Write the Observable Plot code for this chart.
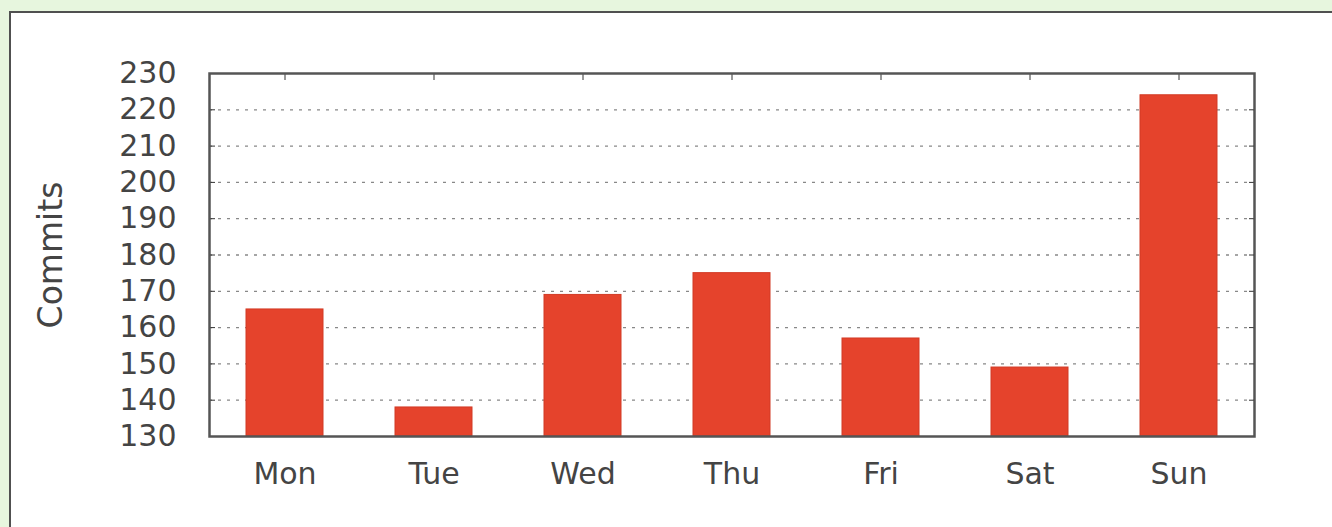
<!DOCTYPE html>
<html>
<head>
<meta charset="utf-8">
<script src="https://cdn.jsdelivr.net/npm/d3@7"></script>
<script src="https://cdn.jsdelivr.net/npm/@observablehq/plot@0.6"></script>
<style>
  html, body { margin: 0; padding: 0; width: 1332px; height: 527px; overflow: hidden; background: #e7f6de; }
  #panel { position: absolute; left: 9px; top: 11px; width: 1340px; height: 540px; background: #ffffff; border-top: 2px solid #505050; border-left: 2px solid #505050; }
  #chart { position: absolute; left: 0; top: 0; }
</style>
</head>
<body>
<div id="panel"></div>
<div id="chart"></div>
<script>
const days = ["Mon", "Tue", "Wed", "Thu", "Fri", "Sat", "Sun"];
const commits = [165, 138, 169, 175, 157, 149, 224];
const yDomain = [130, 230];
const yTicks = [130, 140, 150, 160, 170, 180, 190, 200, 210, 220, 230];
const gridTicks = [140, 150, 160, 170, 180, 190, 200, 210, 220];
const yLabel = "Commits";

const data = days.map((d, i) => ({day: d, commits: commits[i]}));

const chart = Plot.plot({
  width: 1332,
  height: 527,
  marginLeft: 209,
  marginRight: 78,
  marginTop: 73,
  marginBottom: 91,
  style: {background: "transparent", fontFamily: "DejaVu Sans", fontSize: "30px", color: "#444"},
  x: {domain: days, paddingInner: 0.485, paddingOuter: 0.2425, axis: null},
  y: {domain: yDomain, axis: null},
  marks: [
    Plot.gridY(gridTicks, {stroke: "#888", strokeOpacity: 1, strokeDasharray: "3,6", strokeWidth: 1.3}),
    Plot.barY(data, {x: "day", y1: yDomain[0], y2: "commits", fill: "#e5432c", stroke: "#d23a25", strokeWidth: 1}),
    Plot.axisY({ticks: yTicks, anchor: "left", tickSize: -6, tickPadding: 39, stroke: "#333", fontSize: 30, fill: "#444", label: null}),
    Plot.axisY({ticks: yTicks, anchor: "right", tickSize: -6, tickFormat: () => "", stroke: "#333", label: null}),
    Plot.axisX({anchor: "top", tickSize: -6, tickFormat: () => "", stroke: "#333", label: null}),
    Plot.axisX({anchor: "bottom", tickSize: 0, tickPadding: 26, fontSize: 30, fill: "#444", label: null}),
    Plot.text([yLabel], {text: d => d, frameAnchor: "left", textAnchor: "middle", dx: -158, rotate: -90, fontSize: 33, fill: "#444"}),
    Plot.frame({stroke: "#555", strokeWidth: 2.5})
  ]
});
document.getElementById("chart").appendChild(chart);
</script>
</body>
</html>
